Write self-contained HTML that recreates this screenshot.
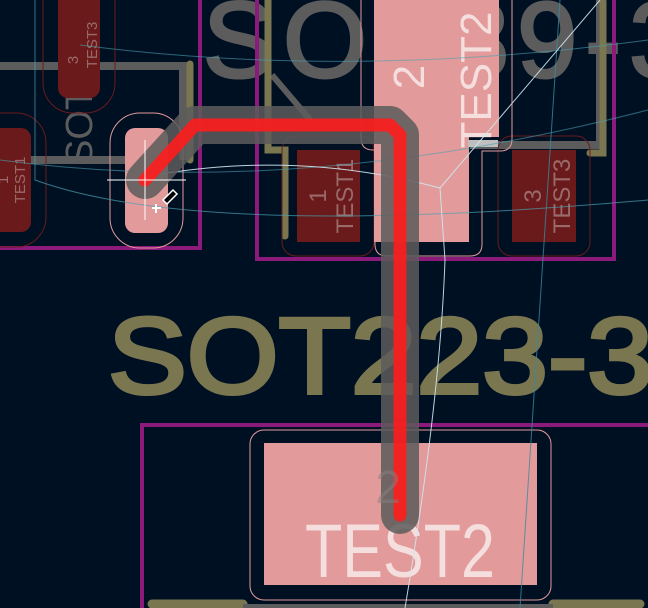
<!DOCTYPE html>
<html><head><meta charset="utf-8"><style>
html,body{margin:0;padding:0;background:#001023;}
svg{display:block;}
</style></head><body>
<svg width="648" height="608" viewBox="0 0 648 608" xmlns="http://www.w3.org/2000/svg" font-family="Liberation Sans, sans-serif">
<rect width="648" height="608" fill="#001023"/>

<!-- SOT89-3 big silk text (gray) -->
<text x="203" y="77" font-size="108" fill="#5c5c5c" stroke="#5c5c5c" stroke-width="3" letter-spacing="8">SOT89-3</text>

<!-- top-left module gray silk -->
<path d="M0 66 H183 V160" stroke="#5c5c5c" stroke-width="8" fill="none"/>
<path d="M30 160 H125" stroke="#5c5c5c" stroke-width="8" fill="none"/>
<path d="M272 75 L312 122" stroke="#5c5c5c" stroke-width="6"/>
<path d="M470 145 H600 V0" stroke="#5c5c5c" stroke-width="8" fill="none"/>
<text transform="translate(92,165) rotate(-90)" font-size="38" fill="#5c5c5c">SOT</text>

<!-- olive lines -->
<path d="M190 64 V160" stroke="#7a7650" stroke-width="7" stroke-linecap="round"/>
<path d="M268 0 V150 H285 V236" stroke="#7a7650" stroke-width="7" fill="none" stroke-linecap="round"/>
<path d="M603 0 V153 H590" stroke="#7a7650" stroke-width="7" fill="none" stroke-linecap="round"/>

<!-- magenta courtyards -->
<path d="M0 248 H200 V0" stroke="#8b1a7a" stroke-width="4" fill="none"/>
<path d="M257 0 V259 H614 V0" stroke="#8b1a7a" stroke-width="4" fill="none"/>
<path d="M648 425 H142 V608" stroke="#8b1a7a" stroke-width="4" fill="none"/>

<!-- top-left pads -->
<rect x="43" y="-30" width="72" height="143" rx="30" fill="none" stroke="#6a1a1a" stroke-width="1"/>
<rect x="58" y="-20" width="42" height="118" rx="10" fill="#6a1a1a"/>
<text transform="translate(78,60) rotate(-90)" font-size="15" fill="#9a6a6a" text-anchor="middle">3</text>
<text transform="translate(97,45) rotate(-90)" font-size="15" fill="#9a6a6a" text-anchor="middle">TEST3</text>
<rect x="-30" y="113" width="76" height="134" rx="30" fill="none" stroke="#6a1a1a" stroke-width="1"/>
<rect x="-20" y="128" width="51" height="104" rx="10" fill="#6a1a1a"/>
<text transform="translate(8,180) rotate(-90)" font-size="15" fill="#9a6a6a" text-anchor="middle">1</text>
<text transform="translate(25,180) rotate(-90)" font-size="15" fill="#9a6a6a" text-anchor="middle">TEST1</text>
<rect x="110" y="113" width="73" height="135" rx="30" fill="none" stroke="#e39a9a" stroke-width="1"/>
<rect x="125" y="128" width="43" height="105" rx="10" fill="#e39a9a"/>

<!-- SOT89 pads -->
<rect x="282" y="136" width="92" height="120" rx="14" fill="none" stroke="#6a1a1a" stroke-width="1"/>
<rect x="297" y="150" width="63" height="92" fill="#6a1a1a"/>
<text transform="translate(326,196) rotate(-90)" font-size="24" fill="#9a6a6a" text-anchor="middle">1</text>
<text transform="translate(353,196) rotate(-90)" font-size="24" fill="#9a6a6a" text-anchor="middle">TEST1</text>
<rect x="498" y="136" width="92" height="120" rx="14" fill="none" stroke="#6a1a1a" stroke-width="1"/>
<rect x="512" y="150" width="64" height="92" fill="#6a1a1a"/>
<text transform="translate(541,196) rotate(-90)" font-size="24" fill="#9a6a6a" text-anchor="middle">3</text>
<text transform="translate(570,196) rotate(-90)" font-size="24" fill="#9a6a6a" text-anchor="middle">TEST3</text>
<path d="M361 -5 V138 Q361 150 373 150 H375 V244 Q375 256 387 256 H470 Q482 256 482 244 V151 H500 Q512 151 512 139 V-5" fill="none" stroke="#e39a9a" stroke-width="1"/>
<path d="M374 0 H499 V137 H469 V242 H374 Z" fill="#e39a9a"/>
<rect x="468" y="140" width="30" height="7" fill="#bfbfbf"/>
<text transform="translate(424,77) rotate(-90)" font-size="44" fill="#f5dede" text-anchor="middle">2</text>
<text transform="translate(491,80) rotate(-90)" font-size="44" fill="#f5dede" text-anchor="middle">TEST2</text>

<!-- SOT223 big text olive -->
<text x="108" y="393" font-size="108" fill="#7a7650" stroke="#7a7650" stroke-width="4" textLength="545" lengthAdjust="spacingAndGlyphs">SOT223-3</text>

<!-- bottom module -->
<rect x="250" y="430" width="301" height="170" rx="14" fill="none" stroke="#e39a9a" stroke-width="1"/>
<rect x="264" y="443" width="273" height="142" fill="#e39a9a"/>
<text x="305" y="577" font-size="76" fill="#f5dede" textLength="190" lengthAdjust="spacingAndGlyphs">TEST2</text>
<path d="M152 604 H243 M553 604 H640" stroke="#7a7650" stroke-width="9" stroke-linecap="round"/>
<path d="M243 606 H553" stroke="#5c5c5c" stroke-width="4"/>

<!-- ratsnest lines -->
<g fill="none" stroke-width="1">
<path d="M35 0 V180 Q200 240 648 200" stroke="#4aa0b0" opacity="0.7"/>
<path d="M80 45 Q350 80 648 40" stroke="#4aa0b0" opacity="0.6"/>
<path d="M0 160 Q300 200 648 110" stroke="#4aa0b0" opacity="0.6"/>
<path d="M560 0 Q540 300 520 608" stroke="#3a8aa0" opacity="0.8"/>
<path d="M155 175 Q300 150 440 188 L600 0" stroke="#cfe8f0" opacity="0.9"/>
<path d="M440 188 L445 260 Q440 400 405 608" stroke="#cfe8f0" opacity="0.9"/>
</g>

<!-- track -->
<path d="M145 180 L195 125 H390 L400 135 V515" fill="none" stroke="#5c5c5c" stroke-opacity="0.85" stroke-width="38" stroke-linecap="round" stroke-linejoin="round"/>
<path d="M145 180 L195 125 H390 L400 135 V515" fill="none" stroke="#ff1c1c" stroke-opacity="0.9" stroke-width="13" stroke-linecap="round" stroke-linejoin="round"/>
<text x="388" y="503" font-size="46" fill="#8a8080" text-anchor="middle" opacity="0.5">2</text>

<!-- crosshair + cursor -->
<path d="M107 180 H186 M145 140 V220" stroke="#ffffff" stroke-width="1"/>
<path d="M152 208 h9 M156 204 v9" stroke="#fff" stroke-width="2"/>
<path d="M163 200 l10 -10 l4 4 l-10 10 z" fill="#000" stroke="#fff" stroke-width="1.5"/>
</svg>
</body></html>
